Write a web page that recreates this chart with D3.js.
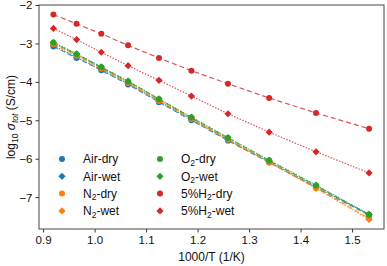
<!DOCTYPE html>
<html>
<head>
<meta charset="utf-8">
<script src="https://cdn.jsdelivr.net/npm/d3@7"></script>
<style>
  body { margin: 0; background: #fff; }
  svg { font-family: "Liberation Sans", Arial, sans-serif; }
</style>
</head>
<body>
<div id="chart"></div>
<script>
// 1000/T values (1/K)
const invT = [0.920, 0.965, 1.013, 1.065, 1.125, 1.188, 1.259, 1.339, 1.430, 1.533];

const airDry = [-3.08, -3.38, -3.70, -4.07, -4.53, -5.00, -5.53, -6.10, -6.75, -7.47];
const airWet = [-3.06, -3.36, -3.68, -4.05, -4.51, -4.98, -5.51, -6.08, -6.73, -7.45];
const n2Dry  = [-3.02, -3.32, -3.65, -4.03, -4.49, -4.96, -5.50, -6.09, -6.76, -7.55];
const n2Wet  = [-3.00, -3.30, -3.64, -4.02, -4.48, -4.95, -5.50, -6.09, -6.77, -7.58];
const o2Dry  = [-2.98, -3.28, -3.62, -3.99, -4.45, -4.93, -5.46, -6.05, -6.70, -7.46];
const o2Wet  = [-2.97, -3.27, -3.61, -3.98, -4.44, -4.92, -5.45, -6.04, -6.69, -7.45];
const h2Dry  = [-2.25, -2.49, -2.75, -3.05, -3.38, -3.71, -4.05, -4.42, -4.81, -5.22];
const h2Wet  = [-2.61, -2.90, -3.23, -3.58, -3.96, -4.37, -4.83, -5.31, -5.82, -6.37];

const xTicks = [0.9, 1.0, 1.1, 1.2, 1.3, 1.4, 1.5];
const yTicks = [-2, -3, -4, -5, -6, -7];

const series = [
  { name: "Air-dry", sub: null, values: airDry, color: "#1f77b4", shape: "circle", dash: "5,3" },
  { name: "Air-wet", sub: null, values: airWet, color: "#1f77b4", shape: "diamond", dash: "1.5,1.5" },
  { name: "N2-dry", sub: ["N", "2", "-dry"], values: n2Dry, color: "#ff7f0e", shape: "circle", dash: "5,3" },
  { name: "N2-wet", sub: ["N", "2", "-wet"], values: n2Wet, color: "#ff7f0e", shape: "diamond", dash: "1.5,1.5" },
  { name: "O2-dry", sub: ["O", "2", "-dry"], values: o2Dry, color: "#2ca02c", shape: "circle", dash: "5,3" },
  { name: "O2-wet", sub: ["O", "2", "-wet"], values: o2Wet, color: "#2ca02c", shape: "diamond", dash: "1.5,1.5" },
  { name: "5%H2-dry", sub: ["5%H", "2", "-dry"], values: h2Dry, color: "#d62728", shape: "circle", dash: "5,3" },
  { name: "5%H2-wet", sub: ["5%H", "2", "-wet"], values: h2Wet, color: "#d62728", shape: "diamond", dash: "1.5,1.5" }
];

const width = 387, height = 266;
const margin = { left: 39, right: 3, top: 5, bottom: 37 };

const svg = d3.select("#chart").append("svg")
  .attr("width", width)
  .attr("height", height);

const x = d3.scaleLinear()
  .domain([0.892, 1.562])
  .range([margin.left, width - margin.right]);

const y = d3.scaleLinear()
  .domain([-7.83, -2])
  .range([height - margin.bottom, margin.top]);

// axes
const xAxis = svg.append("g")
  .attr("transform", `translate(0, ${height - margin.bottom})`)
  .call(d3.axisBottom(x).tickValues(xTicks).tickFormat(d3.format(".1f")).tickSize(3.5).tickPadding(3));

const yAxis = svg.append("g")
  .attr("transform", `translate(${margin.left}, 0)`)
  .call(d3.axisLeft(y).tickValues(yTicks).tickFormat(d => "\u2212" + Math.abs(d)).tickSize(3.5).tickPadding(3));

[xAxis, yAxis].forEach(a => {
  a.select(".domain").remove();
  a.selectAll("text").style("font-size", "11.5px").attr("fill", "#111");
  a.selectAll("line").attr("stroke", "#333");
});
yAxis.selectAll("text").attr("dy", "0.34em");

// frame
svg.append("rect")
  .attr("x", margin.left)
  .attr("y", margin.top)
  .attr("width", width - margin.left - margin.right)
  .attr("height", height - margin.top - margin.bottom)
  .attr("fill", "none")
  .attr("stroke", "#444")
  .attr("stroke-width", 1);

const line = d3.line()
  .x((d, i) => x(invT[i]))
  .y(d => y(d));

const symCircle = d3.symbol().type(d3.symbolCircle).size(28);
const symSquare = d3.symbol().type(d3.symbolSquare).size(26);

const marker = (sel, s) => {
  if (s.shape === "circle") {
    sel.attr("d", symCircle);
  } else {
    sel.attr("d", symSquare)
      .attr("transform", function () { return d3.select(this).attr("transform") + " rotate(45)"; });
  }
  return sel.attr("fill", s.color);
};

const plot = svg.append("g");

series.forEach(s => {
  plot.append("path")
    .datum(s.values)
    .attr("d", line)
    .attr("fill", "none")
    .attr("stroke", s.color)
    .attr("stroke-width", 1.2)
    .attr("stroke-opacity", 0.8)
    .attr("stroke-dasharray", s.dash);
});

series.forEach(s => {
  const pts = plot.selectAll(null)
    .data(s.values)
    .enter()
    .append("path")
    .attr("transform", (d, i) => `translate(${x(invT[i])}, ${y(d)})`);
  marker(pts, s);
});

// legend
const legend = svg.append("g");
series.forEach((s, i) => {
  const col = Math.floor(i / 4), row = i % 4;
  const lx = 62 + col * 98, ly = 159 + row * 17.3;
  const m = legend.append("path")
    .attr("transform", `translate(${lx}, ${ly})`);
  marker(m, s);
  const t = legend.append("text")
    .attr("x", lx + 21)
    .attr("y", ly + 4.3)
    .style("font-size", "12px")
    .attr("fill", "#111");
  if (s.sub) {
    t.append("tspan").text(s.sub[0]);
    t.append("tspan").text(s.sub[1]).style("font-size", "8.5px").attr("dy", 2.5);
    t.append("tspan").text(s.sub[2]).attr("dy", -2.5);
  } else {
    t.text(s.name);
  }
});

// axis labels
svg.append("text")
  .attr("x", (margin.left + width - margin.right) / 2)
  .attr("y", 261)
  .attr("text-anchor", "middle")
  .style("font-size", "12px")
  .attr("fill", "#111")
  .text("1000/T (1/K)");

const yl = svg.append("text")
  .attr("transform", `translate(15, ${(margin.top + height - margin.bottom) / 2}) rotate(-90)`)
  .attr("text-anchor", "middle")
  .style("font-size", "12px")
  .attr("fill", "#111");
yl.append("tspan").text("log");
yl.append("tspan").text("10").style("font-size", "8.5px").attr("dy", 3);
yl.append("tspan").text(" \u03C3").style("font-style", "italic").attr("dy", -3);
yl.append("tspan").text("tot").style("font-size", "8.5px").style("font-style", "italic").attr("dy", 3);
yl.append("tspan").text(" (S/cm)").attr("dy", -3);
</script>
</body>
</html>
